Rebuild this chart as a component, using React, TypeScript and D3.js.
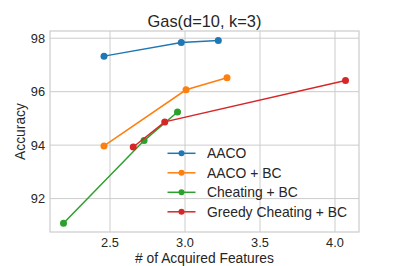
import React from "react";
import * as d3 from "d3";

const seriesNames = ["AACO", "AACO + BC", "Cheating + BC", "Greedy Cheating + BC"];
const colors = ["#1f77b4", "#ff7f0e", "#2ca02c", "#d62728"];

const aacoX = [2.46, 2.975, 3.222];
const aacoY = [97.33, 97.84, 97.91];
const aacoBcX = [2.46, 3.007, 3.28];
const aacoBcY = [93.97, 96.07, 96.52];
const cheatX = [2.19, 2.727, 2.95];
const cheatY = [91.08, 94.17, 95.24];
const greedyX = [2.655, 2.865, 4.07];
const greedyY = [93.93, 94.87, 96.42];

const xTicks = [2.5, 3.0, 3.5, 4.0];
const yTicks = [92, 94, 96, 98];

const allX = [aacoX, aacoBcX, cheatX, greedyX];
const allY = [aacoY, aacoBcY, cheatY, greedyY];

const width = 399;
const height = 266;
const margin = { top: 31, right: 40, bottom: 34, left: 50 };

export default function App() {
  const x = d3.scaleLinear().domain([2.1, 4.16]).range([margin.left, width - margin.right]);
  const y = d3.scaleLinear().domain([90.75, 98.27]).range([height - margin.bottom, margin.top]);
  const line = d3
    .line<[number, number]>()
    .x((d) => x(d[0]))
    .y((d) => y(d[1]));

  const font = "Liberation Sans, Arial, sans-serif";
  const textColor = "#262626";
  const x0 = margin.left;
  const x1 = width - margin.right;
  const y0 = margin.top;
  const y1 = height - margin.bottom;

  return (
    <svg
      width={width}
      height={height}
      style={{ position: "absolute", left: 0, top: 0 }}
      fontFamily={font}
    >
      <rect width={width} height={height} fill="#fff" />
      {/* grid */}
      {xTicks.map((t) => (
        <line key={"gx" + t} x1={x(t)} x2={x(t)} y1={y0} y2={y1} stroke="#cccccc" strokeWidth={1} />
      ))}
      {yTicks.map((t) => (
        <line key={"gy" + t} x1={x0} x2={x1} y1={y(t)} y2={y(t)} stroke="#cccccc" strokeWidth={1} />
      ))}
      <rect x={x0} y={y0} width={x1 - x0} height={y1 - y0} fill="none" stroke="#cccccc" strokeWidth={1.2} />

      {/* tick labels */}
      {xTicks.map((t) => (
        <text key={"tx" + t} x={x(t)} y={y1 + 15} textAnchor="middle" fontSize={12.8} fill={textColor}>
          {t.toFixed(1)}
        </text>
      ))}
      {yTicks.map((t) => (
        <text key={"ty" + t} x={x0 - 5} y={y(t) + 4.5} textAnchor="end" fontSize={12.8} fill={textColor}>
          {t}
        </text>
      ))}

      {/* series */}
      {seriesNames.map((name, i) => {
        const pts: [number, number][] = allX[i].map((v, j) => [v, allY[i][j]]);
        return (
          <g key={name}>
            <path d={line(pts) ?? ""} fill="none" stroke={colors[i]} strokeWidth={1.5} />
            {pts.map((p, j) => (
              <circle key={j} cx={x(p[0])} cy={y(p[1])} r={3.5} fill={colors[i]} />
            ))}
          </g>
        );
      })}

      {/* legend */}
      {seriesNames.map((name, i) => {
        const ly = 153.3 + i * 19.5;
        return (
          <g key={"lg" + name}>
            <line x1={167.5} x2={195.5} y1={ly} y2={ly} stroke={colors[i]} strokeWidth={1.5} />
            <circle cx={181.5} cy={ly} r={3} fill={colors[i]} />
            <text x={207} y={ly + 5} fontSize={13.9} fill={textColor}>
              {name}
            </text>
          </g>
        );
      })}

      {/* labels */}
      <text x={(x0 + x1) / 2} y={27} textAnchor="middle" fontSize={16.4} fill={textColor}>
        Gas(d=10, k=3)
      </text>
      <text x={(x0 + x1) / 2} y={262.5} textAnchor="middle" fontSize={13.8} fill={textColor}>
        # of Acquired Features
      </text>
      <text
        transform={`translate(24.5, ${(y0 + y1) / 2}) rotate(-90)`}
        textAnchor="middle"
        fontSize={13.8}
        fill={textColor}
      >
        Accuracy
      </text>
    </svg>
  );
}
